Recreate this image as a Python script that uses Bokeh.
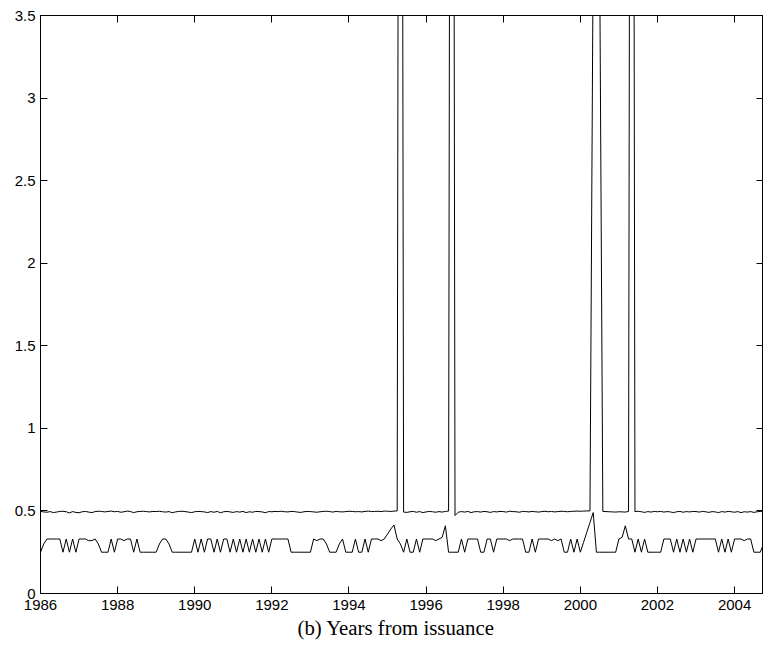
import json
import numpy as np
from bokeh.plotting import figure
from bokeh.models import Range1d, LinearAxis, FixedTicker, CustomJSTickFormatter, ColumnDataSource, Title
from bokeh.embed import file_html
from bokeh.resources import INLINE

start_year = 1986
months_per_year = 12

upper = [
    0.497, 0.494, 0.492, 0.496, 0.490, 0.493, 0.497, 0.498, 0.495, 0.488, 0.496, 0.491,
    0.489, 0.495, 0.497, 0.493, 0.490, 0.496, 0.498, 0.497, 0.494, 0.497, 0.499, 0.495,
    0.497, 0.492, 0.495, 0.499, 0.496, 0.490, 0.495, 0.497, 0.498, 0.496, 0.494, 0.497,
    0.496, 0.498, 0.495, 0.493, 0.496, 0.489, 0.494, 0.497, 0.498, 0.496, 0.493, 0.490,
    0.495, 0.497, 0.496, 0.494, 0.490, 0.496, 0.492, 0.497, 0.489, 0.495, 0.497, 0.494,
    0.491, 0.496, 0.493, 0.497, 0.490, 0.495, 0.492, 0.497, 0.496, 0.494, 0.489, 0.496,
    0.495, 0.497, 0.496, 0.498, 0.495, 0.494, 0.497, 0.496, 0.493, 0.491, 0.495, 0.497,
    0.496, 0.494, 0.492, 0.495, 0.497, 0.498, 0.496, 0.493, 0.497, 0.495, 0.494, 0.496,
    0.498, 0.497, 0.495, 0.496, 0.494, 0.497, 0.499, 0.496, 0.497, 0.498, 0.496, 0.499,
    0.498, 0.497, 0.499, 0.500, 12.0, 0.493, 0.491, 0.495, 0.497, 0.492, 0.496, 0.490,
    0.494, 0.497, 0.495, 0.492, 0.496, 0.493, 0.497, 0.499, 12.0, 0.472, 0.492, 0.496,
    0.493, 0.497, 0.490, 0.495, 0.496, 0.493, 0.497, 0.495, 0.491, 0.496, 0.494, 0.497,
    0.496, 0.493, 0.498, 0.496, 0.495, 0.492, 0.497, 0.496, 0.494, 0.497, 0.495, 0.493,
    0.496, 0.498, 0.495, 0.497, 0.494, 0.496, 0.498, 0.497, 0.495, 0.497, 0.498, 0.499,
    0.498, 0.499, 0.500, 0.500, 3.9, 4.0, 3.9, 0.497, 0.496, 0.495, 0.494, 0.493,
    0.495, 0.494, 0.493, 0.497, 12.0, 0.496, 0.498, 0.495, 0.491, 0.496, 0.493, 0.497,
    0.495, 0.497, 0.493, 0.496, 0.494, 0.490, 0.495, 0.497, 0.492, 0.496, 0.494, 0.497,
    0.496, 0.493, 0.497, 0.495, 0.491, 0.496, 0.494, 0.490, 0.496, 0.493, 0.497, 0.495,
    0.492, 0.496, 0.490, 0.495, 0.493, 0.496, 0.491, 0.495, 0.497, 0.494,
]

lower = [
    0.25, 0.30, 0.33, 0.33, 0.33, 0.33, 0.33, 0.25, 0.33, 0.25, 0.33, 0.25,
    0.33, 0.33, 0.33, 0.32, 0.32, 0.33, 0.30, 0.25, 0.25, 0.25, 0.33, 0.25,
    0.33, 0.33, 0.32, 0.33, 0.33, 0.25, 0.33, 0.25, 0.25, 0.25, 0.25, 0.25,
    0.25, 0.30, 0.33, 0.33, 0.30, 0.25, 0.25, 0.25, 0.25, 0.25, 0.25, 0.25,
    0.33, 0.25, 0.33, 0.25, 0.33, 0.33, 0.25, 0.33, 0.25, 0.33, 0.33, 0.25,
    0.33, 0.25, 0.33, 0.25, 0.33, 0.25, 0.33, 0.25, 0.33, 0.25, 0.33, 0.25,
    0.33, 0.33, 0.33, 0.33, 0.33, 0.33, 0.25, 0.25, 0.25, 0.25, 0.25, 0.25,
    0.25, 0.33, 0.32, 0.33, 0.33, 0.30, 0.25, 0.25, 0.25, 0.30, 0.33, 0.25,
    0.25, 0.25, 0.33, 0.25, 0.25, 0.33, 0.25, 0.33, 0.33, 0.33, 0.32, 0.33,
    0.36, 0.39, 0.415, 0.33, 0.30, 0.25, 0.33, 0.25, 0.25, 0.33, 0.25, 0.33,
    0.33, 0.33, 0.33, 0.32, 0.33, 0.34, 0.41, 0.25, 0.25, 0.25, 0.25, 0.33,
    0.25, 0.33, 0.33, 0.33, 0.33, 0.25, 0.25, 0.33, 0.33, 0.25, 0.33, 0.33,
    0.33, 0.33, 0.32, 0.33, 0.33, 0.33, 0.33, 0.25, 0.25, 0.33, 0.25, 0.33,
    0.33, 0.33, 0.33, 0.32, 0.33, 0.32, 0.33, 0.25, 0.25, 0.33, 0.25, 0.33,
    0.25, 0.31, 0.37, 0.43, 0.49, 0.25, 0.25, 0.25, 0.25, 0.25, 0.25, 0.25,
    0.33, 0.34, 0.41, 0.33, 0.33, 0.25, 0.33, 0.25, 0.33, 0.25, 0.25, 0.25,
    0.25, 0.25, 0.33, 0.33, 0.33, 0.25, 0.33, 0.25, 0.33, 0.25, 0.33, 0.25,
    0.33, 0.33, 0.33, 0.33, 0.33, 0.33, 0.33, 0.25, 0.33, 0.25, 0.33, 0.25,
    0.33, 0.33, 0.33, 0.32, 0.33, 0.33, 0.25, 0.25, 0.25, 0.30,
]

x_ticks = [1986, 1988, 1990, 1992, 1994, 1996, 1998, 2000, 2002, 2004]
x_tick_labels = ["1986", "1988", "1990", "1992", "1994", "1996", "1998", "2000", "2002", "2004"]
y_ticks = [0, 0.5, 1, 1.5, 2, 2.5, 3, 3.5]
y_tick_labels = ["0", "0.5", "1", "1.5", "2", "2.5", "3", "3.5"]
x_title = "(b) Years from issuance"

years = start_year + np.arange(len(upper)) / months_per_year
src = ColumnDataSource(data=dict(year=years, upper=upper, lower=lower))


def mapping_formatter(ticks, labels):
    mp = json.dumps({str(float(t)): l for t, l in zip(ticks, labels)})
    return CustomJSTickFormatter(code=f"const m = {mp}; const k = Number(tick).toFixed(1); return (k in m) ? m[k] : '';")


p = figure(frame_width=723, frame_height=578, output_backend="svg", toolbar_location=None,
           x_range=Range1d(1986, 2004.75), y_range=Range1d(0, 3.5),
           min_border_left=40, min_border_right=0, min_border_top=15, min_border_bottom=55,
           background_fill_color="white", border_fill_color="white")
p.grid.visible = False
p.outline_line_color = "black"
p.outline_line_width = 1

p.line("year", "upper", source=src, line_color="black", line_width=1)
p.line("year", "lower", source=src, line_color="black", line_width=1)

for ax in (p.xaxis[0], p.yaxis[0]):
    ax.major_tick_in = 7
    ax.major_tick_out = 0
    ax.minor_tick_line_color = None
    ax.axis_line_color = "black"
    ax.major_tick_line_color = "black"
    ax.major_label_text_font = "Liberation Sans"
    ax.major_label_text_font_size = "15px"
    ax.major_label_text_color = "black"

p.xaxis.ticker = FixedTicker(ticks=x_ticks)
p.xaxis.formatter = mapping_formatter(x_ticks, x_tick_labels)
p.xaxis.major_label_standoff = 6

p.yaxis.ticker = FixedTicker(ticks=y_ticks)
p.yaxis.formatter = mapping_formatter(y_ticks, y_tick_labels)
p.yaxis.major_label_standoff = 5

top = LinearAxis(ticker=FixedTicker(ticks=x_ticks), formatter=CustomJSTickFormatter(code="return '';"),
                 major_tick_in=7, major_tick_out=0, minor_tick_line_color=None,
                 major_label_standoff=0, axis_line_color="black", major_tick_line_color="black",
                 major_label_text_font_size="1px")
right = LinearAxis(ticker=FixedTicker(ticks=y_ticks), formatter=CustomJSTickFormatter(code="return '';"),
                   major_tick_in=7, major_tick_out=0, minor_tick_line_color=None,
                   major_label_standoff=0, axis_line_color="black", major_tick_line_color="black",
                   major_label_text_font_size="1px")
p.add_layout(top, "above")
p.add_layout(right, "right")

title = Title(text=x_title, align="left", offset=257, standoff=2,
              text_font="Liberation Serif", text_font_style="normal",
              text_font_size="20.8px", text_color="black")
p.add_layout(title, "below")

open("out.html", "w").write(file_html(p, INLINE))
